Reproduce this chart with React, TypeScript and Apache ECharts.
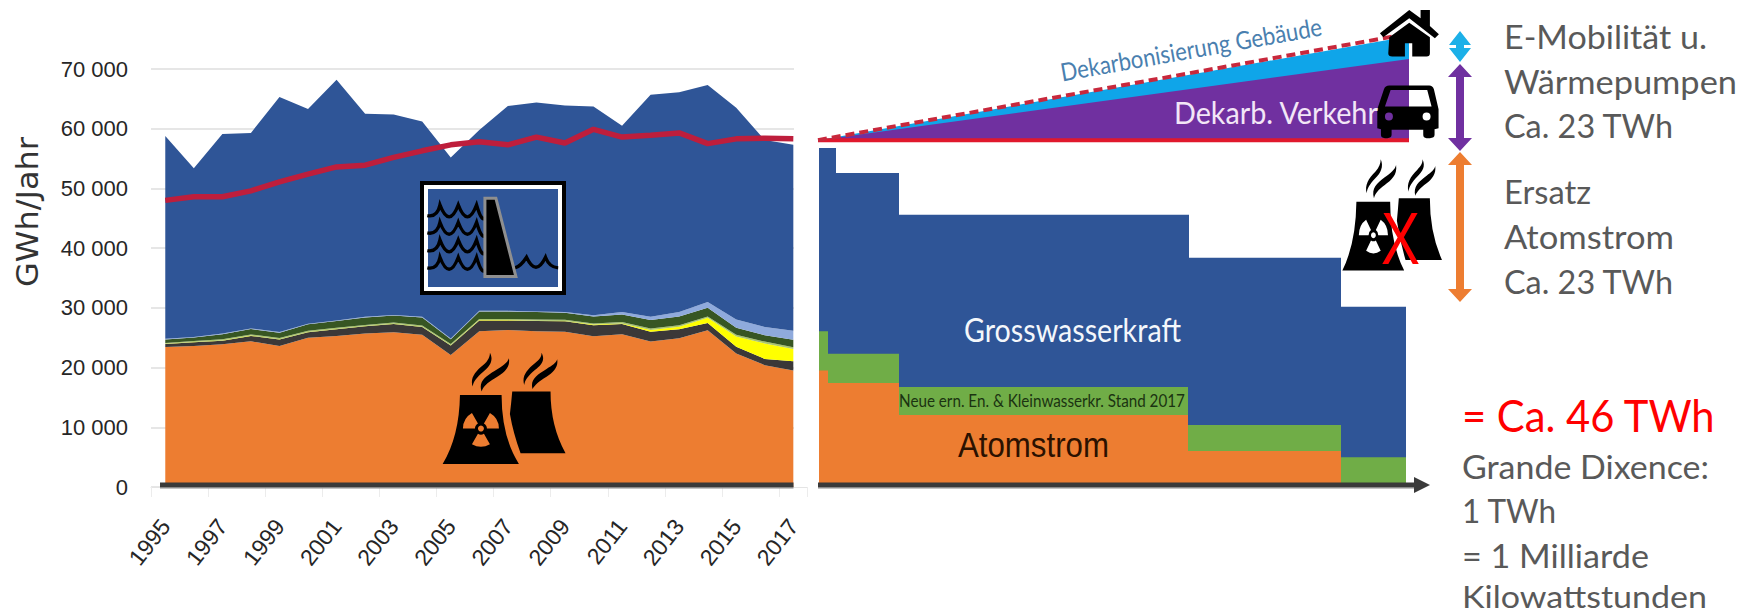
import React, { useEffect, useRef } from "react";
import * as echarts from "echarts";

// Swiss electricity production 1995-2017 (GWh/year), stacked by source
const years = ["1995","1996","1997","1998","1999","2000","2001","2002","2003","2004","2005","2006","2007","2008","2009","2010","2011","2012","2013","2014","2015","2016","2017"];
const nuclear = [23460,23630,23900,24400,23600,25000,25300,25700,25900,25500,22100,26100,26300,26100,26000,25250,25600,24350,24900,26250,22350,20400,19500];
const fossilHeat = [500,600,600,900,1100,900,1100,1200,1400,1300,1600,1800,1600,1700,1750,1850,1700,1650,1500,1200,1150,1050,1550];
const solarWind = [50,50,50,50,50,50,50,50,50,50,50,50,50,50,50,100,100,300,450,900,1700,2600,2050];
const biomass = [100,150,200,200,200,200,200,200,200,200,200,200,200,200,200,200,250,250,250,200,300,300,300];
const smallHydro = [600,600,850,900,900,1100,1150,1250,1150,1350,800,1250,1250,1250,1200,1150,1250,1400,1450,1450,1150,1050,1250];
const otherRenewable = [100,100,100,100,100,100,100,100,100,100,100,100,100,100,100,200,400,550,750,1000,1400,1400,1500];
const totalProduction = [58800,53400,59100,59300,65300,63300,68200,62500,62400,61200,55200,59800,63800,64400,63900,63700,60500,65700,66100,67300,63500,58100,57300];
const consumption = [48000,48600,48600,49600,51100,52400,53600,53900,55200,56300,57300,57800,57300,58600,57600,59900,58600,58900,59300,57500,58300,58400,58300];
const yTicks = [0,10000,20000,30000,40000,50000,60000,70000];

// Phase-out scenario: steps of remaining production after 2017
const hydroEdges = [1,18,81,371,523,588];
const hydroTops = [56800,52600,45600,38400,30200,30200];
const renewableEdges = [1,10,81,370,523,588];
const renewableTops = [26100,22300,16750,10400,5000,5000];
const atomEdges = [1,10,81,370,523,588];
const atomTops = [19500,17400,12060,6030,0,0];

// Additional demand wedges above today's consumption
const wedgeEnds = [0,591];
const demandBase = [58100,58100];
const transportTop = [58100,71700];
const buildingsTop = [58100,75500];
const demandTotal = [58100,75930];

const sans = "Lato";
const axisFont = "'Liberation Sans'";

const TOWERS = "M120,165 L245,165 Q245,290 297,372 L68,372 Q118,290 120,165 Z M277,155 L392,155 Q392,260 437,340 L302,340 Q280,280 270,222 Q274,190 277,155 Z";
const SMOKE = "M158,140 C150,115 165,95 190,75 C205,62 210,50 210,38 C222,60 210,80 190,95 C170,112 160,125 158,140 Z M185,155 C175,125 195,110 225,92 C248,78 262,70 267,55 C272,85 250,100 225,115 C200,130 190,140 185,155 Z M313,135 C305,110 320,90 345,70 C360,57 365,50 365,38 C377,60 365,75 345,90 C325,107 315,120 313,135 Z M338,147 C330,120 350,105 380,87 C398,76 408,70 412,58 C416,82 400,97 380,110 C355,125 345,135 338,147 Z";
const HOUSE = "M150,100 L238,30 L272,55 L272,30 L300,30 L300,78 L327,103 L315,115 L238,55 L160,112 Z M178,112 L238,68 L300,112 L300,160 Q300,170 290,170 L247,170 L247,130 L225,130 L225,170 L187,170 Q175,170 175,160 Z";
const CAR = "M178,257 L298,257 Q308,257 312,268 L326,328 L326,385 L314,388 L314,405 Q314,415 300,415 L290,415 Q280,415 280,405 L280,390 L185,390 L185,405 Q185,415 172,415 L165,415 Q153,415 153,405 L153,388 L142,385 L142,328 L162,268 Q166,257 178,257 Z M182,270 L165,320 L305,320 L292,270 Z M165,350 a12,12 0 1 0 24,0 a12,12 0 1 0 -24,0 Z M278,350 a12,12 0 1 0 24,0 a12,12 0 1 0 -24,0 Z";
const DAM = "M255,115 L288,115 L348,350 L255,350 Z";

// One scalloped water line with cusps at the given peaks
const scallop = (from: number, peaks: number[], to: number, peakY: number) => {
  const low = peakY + 32;
  let d = `M${from},${low}`;
  let prev = from;
  peaks.forEach((p, i) => {
    d += ` Q${i === 0 ? p - 8 : (prev + p) / 2},${i === 0 ? low + 6 : peakY + 72} ${p},${peakY}`;
    prev = p;
  });
  d += ` Q${(prev + to) / 2 + 4},${peakY + 62} ${to},${low}`;
  return d;
};
const WAVES = [
  scallop(82, [120, 175, 230], 258, 135),
  scallop(82, [120, 175, 230], 258, 187),
  scallop(82, [120, 175, 230], 258, 240),
  scallop(82, [120, 175, 230], 258, 292),
  `M345,324 Q362,320 380,292 Q408,352 437,292 Q448,322 475,324`,
].join(" ");

echarts.graphic.registerShape("towers", echarts.graphic.extendPath(TOWERS, {}) as any);
echarts.graphic.registerShape("smoke", echarts.graphic.extendPath(SMOKE, {}) as any);
echarts.graphic.registerShape("house", echarts.graphic.extendPath(HOUSE, {}) as any);
echarts.graphic.registerShape("car", echarts.graphic.extendPath(CAR, {}) as any);
echarts.graphic.registerShape("dam", echarts.graphic.extendPath(DAM, {}) as any);
echarts.graphic.registerShape("waves", echarts.graphic.extendPath(WAVES, {}) as any);

const measure = document.createElement("canvas").getContext("2d")!;

// Text squeezed or stretched horizontally to a set width
const fitted = (text: string, x: number, y: number, width: number, size: number, fill: string, family = sans, opts: any = {}) => {
  const font = `normal ${size}px ${family}`;
  measure.font = font;
  const natural = measure.measureText(text).width || 1;
  return {
    type: "text",
    x,
    y,
    scaleX: width / natural,
    rotation: opts.rotation ?? 0,
    z: 20,
    style: { text, font, fill, textAlign: opts.align ?? "left", textVerticalAlign: "middle" },
  };
};

const plant = (x: number, y: number, sx: number, sy: number, blade: string) => ({
  type: "group",
  x,
  y,
  scaleX: sx,
  scaleY: sy,
  children: [
    { type: "towers", z: 12, style: { fill: "#000" } },
    { type: "smoke", z: 12, style: { fill: "#000" } },
    ...[60, 180, 300].map((a) => ({
      type: "sector",
      z: 13,
      shape: { cx: 183, cy: 266, r0: 18, r: 54, startAngle: (a * Math.PI) / 180, endAngle: ((a + 60) * Math.PI) / 180, clockwise: true },
      style: { fill: blade },
    })),
    { type: "circle", z: 13, shape: { cx: 183, cy: 266, r: 9 }, style: { fill: blade } },
  ],
});

const doubleArrow = (cx: number, top: number, bottom: number, half: number, headW: number, headL: number, fill: string) => ({
  type: "polygon",
  z: 12,
  shape: {
    points: [
      [cx, top], [cx + headW, top + headL], [cx + half, top + headL], [cx + half, bottom - headL],
      [cx + headW, bottom - headL], [cx, bottom], [cx - headW, bottom - headL], [cx - half, bottom - headL],
      [cx - half, top + headL], [cx - headW, top + headL],
    ],
  },
  style: { fill },
});

const stacked = (name: string, values: number[], color: string) => ({
  name,
  type: "line",
  stack: "production",
  data: values,
  showSymbol: false,
  lineStyle: { width: 0 },
  areaStyle: { color, opacity: 1 },
  itemStyle: { color },
  z: 2,
});

const stepped = (name: string, edges: number[], tops: number[], color: string) => ({
  name,
  type: "line",
  xAxisIndex: 1,
  yAxisIndex: 1,
  step: "end",
  data: edges.map((e, i) => [e, tops[i]]),
  showSymbol: false,
  lineStyle: { width: 0 },
  areaStyle: { color, opacity: 1 },
  z: 2,
});

const wedge = (name: string, tops: number[], color: string) => ({
  name,
  type: "line",
  xAxisIndex: 1,
  yAxisIndex: 1,
  data: wedgeEnds.map((e, i) => [e, tops[i]]),
  showSymbol: false,
  lineStyle: { width: 0 },
  areaStyle: { color, opacity: 1, origin: demandBase[0] },
  z: 2,
});

const below = nuclear.map((_, i) => nuclear[i] + fossilHeat[i] + solarWind[i] + biomass[i] + smallHydro[i] + otherRenewable[i]);
const largeHydro = totalProduction.map((t, i) => t - below[i]);

export default function App() {
  const ref = useRef<HTMLDivElement>(null);
  useEffect(() => {
    const chart = echarts.init(ref.current!, undefined, { renderer: "svg" });
    chart.setOption({
      animation: false,
      backgroundColor: "#fff",
      grid: [
        { left: 151, top: 69, width: 656.6, height: 418 },
        { left: 818, top: 9.4, width: 600, height: 477.6 },
      ],
      xAxis: [
        {
          type: "category",
          data: years,
          boundaryGap: true,
          axisLine: { lineStyle: { color: "#e4e4e4" } },
          axisTick: { show: true, length: 10, lineStyle: { color: "#ececec" } },
          axisLabel: { interval: 1, rotate: 52, margin: 35, fontFamily: axisFont, fontSize: 23, color: "#262626" },
        },
        { type: "value", gridIndex: 1, min: 0, max: 600, show: false },
      ],
      yAxis: [
        {
          type: "value",
          min: 0,
          max: 70000,
          interval: 10000,
          axisLine: { show: false },
          axisTick: { show: false },
          axisLabel: {
            margin: 23,
            fontFamily: axisFont,
            fontSize: 22,
            color: "#262626",
            customValues: yTicks,
            formatter: (v: number) => (v === 0 ? "0" : `${v / 1000} 000`),
          },
          splitLine: { lineStyle: { color: "#e6e6e6", width: 2 } },
        },
        { type: "value", gridIndex: 1, min: 0, max: 80000, show: false },
      ],
      series: [
        stacked("Atomstrom", nuclear, "#ED7D31"),
        stacked("Thermisch", fossilHeat, "#3B3838"),
        stacked("Solar und Wind", solarWind, "#FFFF00"),
        stacked("Biomasse", biomass, "#A9C56A"),
        stacked("Kleinwasserkraft", smallHydro, "#375623"),
        stacked("Übrige", otherRenewable, "#8FAADC"),
        stacked("Grosswasserkraft", largeHydro, "#2F5597"),
        {
          name: "Verbrauch",
          type: "line",
          data: consumption,
          showSymbol: false,
          lineStyle: { color: "#BE1E3C", width: 5.5 },
          z: 4,
        },
        stepped("Grosswasserkraft Szenario", hydroEdges, hydroTops, "#2F5597"),
        stepped("Neue ern. En.", renewableEdges, renewableTops, "#70AD47"),
        stepped("Atomstrom Szenario", atomEdges, atomTops, "#ED7D31"),
        wedge("Dekarbonisierung Gebäude", buildingsTop, "#0FA5E9"),
        wedge("Dekarb. Verkehr", transportTop, "#7030A0"),
        {
          name: "Verbrauch heute",
          type: "line",
          xAxisIndex: 1,
          yAxisIndex: 1,
          data: wedgeEnds.map((e, i) => [e, demandBase[i]]),
          showSymbol: false,
          lineStyle: { color: "#E0182D", width: 4 },
          z: 4,
        },
        {
          name: "Bedarf total",
          type: "line",
          xAxisIndex: 1,
          yAxisIndex: 1,
          data: wedgeEnds.map((e, i) => [e, demandTotal[i]]),
          showSymbol: false,
          lineStyle: { color: "#C8283C", width: 4, type: [9, 5] },
          z: 4,
        },
      ],
      graphic: {
        elements: [
          // gap between the history panel and the scenario panel
          { type: "rect", z: 6, shape: { x: 794, y: 60, width: 23, height: 427 }, style: { fill: "#fff" } },
          // time axes
          { type: "rect", z: 7, shape: { x: 160, y: 482.5, width: 633.5, height: 4.5 }, style: { fill: "#3A3A3A" } },
          { type: "rect", z: 7, shape: { x: 160, y: 487, width: 633.5, height: 1.5 }, style: { fill: "#8A8A8A" } },
          { type: "rect", z: 7, shape: { x: 818, y: 482.5, width: 600, height: 4.5 }, style: { fill: "#3A3A3A" } },
          { type: "rect", z: 7, shape: { x: 818, y: 487, width: 600, height: 1.5 }, style: { fill: "#8A8A8A" } },
          { type: "polygon", z: 7, shape: { points: [[1414, 477], [1430, 485], [1414, 493]] }, style: { fill: "#3A3A3A" } },

          // reservoir dam sign
          { type: "rect", z: 10, shape: { x: 422, y: 183, width: 142, height: 110 }, style: { fill: "transparent", stroke: "#000", lineWidth: 4 } },
          { type: "rect", z: 10, shape: { x: 426, y: 187, width: 134, height: 102 }, style: { fill: "transparent", stroke: "#fff", lineWidth: 4 } },
          { type: "waves", z: 11, x: 400, y: 160, scaleX: 1 / 3, scaleY: 1 / 3, style: { fill: "none", stroke: "#000", lineWidth: 10 } },
          { type: "dam", z: 11, x: 400, y: 160, scaleX: 1 / 3, scaleY: 1 / 3, style: { fill: "#000", stroke: "#8F8F8F", lineWidth: 9 } },

          plant(420, 340, 1 / 3, 1 / 3, "#ED7D31"),
          plant(1324, 146.7, 0.27, 1 / 3, "#fff"),
          { type: "house", z: 12, x: 1330, y: 0, scaleX: 1 / 3, scaleY: 1 / 3, style: { fill: "#000" } },
          { type: "car", z: 12, x: 1330, y: 0, scaleX: 1 / 3, scaleY: 1 / 3, style: { fill: "#000" } },

          // demand arrows
          doubleArrow(1460, 31, 62, 4, 11, 14, "#1CB0E8"),
          doubleArrow(1460, 64, 151, 4, 12, 13, "#7030A0"),
          doubleArrow(1460, 152, 302, 4, 12, 13, "#ED7D31"),

          // panel labels
          fitted("GWh/Jahr", 27, 212, 150, 30, "#333", "'DejaVu Sans'", { align: "center", rotation: Math.PI / 2 }),
          fitted("Dekarbonisierung Gebäude", 1191, 49, 265, 25, "#4A7FAF", sans, { align: "center", rotation: (10 * Math.PI) / 180 }),
          fitted("Dekarb. Verkehr", 1174, 112, 205, 31, "#F3E6F7"),
          fitted("Grosswasserkraft", 964, 329, 217, 32, "#F4F7FB"),
          fitted("Neue ern. En. & Kleinwasserkr. Stand 2017", 899, 401, 286, 18, "#1B3311"),
          fitted("Atomstrom", 958, 445, 151, 35, "#2B1100", axisFont),
          fitted("X", 1381, 238, 39, 74, "#FF0000", axisFont),

          // right-hand notes
          fitted("E-Mobilität u.", 1504, 36, 203, 33, "#595959"),
          fitted("Wärmepumpen", 1504, 81, 233, 33, "#595959"),
          fitted("Ca. 23 TWh", 1504, 125, 170, 33, "#595959"),
          fitted("Ersatz", 1504, 191, 87, 33, "#595959"),
          fitted("Atomstrom", 1504, 236, 170, 33, "#595959"),
          fitted("Ca. 23 TWh", 1504, 281, 170, 33, "#595959"),
          fitted("= Ca. 46 TWh", 1462, 415, 254, 44, "#FF0000"),
          fitted("Grande Dixence:", 1462, 466, 247, 33, "#595959"),
          fitted("1 TWh", 1462, 510, 95, 33, "#595959"),
          fitted("= 1 Milliarde", 1462, 555, 187, 33, "#595959"),
          fitted("Kilowattstunden", 1462, 596, 245, 30, "#595959"),
        ],
      },
    });
    return () => chart.dispose();
  }, []);
  return <div ref={ref} style={{ position: "absolute", left: 0, top: 0, width: 1745, height: 614 }} />;
}
